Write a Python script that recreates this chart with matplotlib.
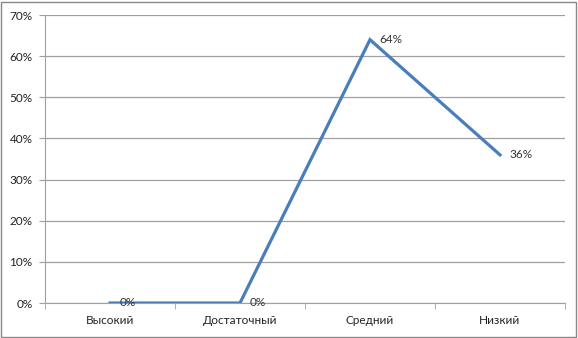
import matplotlib
matplotlib.use("Agg")
import matplotlib.pyplot as plt
from matplotlib.patches import Rectangle
from matplotlib.ticker import FixedLocator

categories = ["Высокий", "Достаточный", "Средний", "Низкий"]
values = [0, 0, 64, 36]
value_labels = ["0%", "0%", "64%", "36%"]
y_ticks = [0, 10, 20, 30, 40, 50, 60, 70]
y_tick_labels = ["0%", "10%", "20%", "30%", "40%", "50%", "60%", "70%"]

plt.rcParams['font.family'] = ['Lato', 'DejaVu Sans']

W, H = 578, 338
fig = plt.figure(figsize=(W/100, H/100), dpi=100)
ax = fig.add_axes([45/W, 35/H, 520/W, 288/H])

x = list(range(len(categories)))
ax.plot(x, values, color="#4A7EBB", lw=2.3, solid_joinstyle="miter", zorder=3)
for xi, v, lab in zip(x, values, value_labels):
    ax.annotate(lab, (xi, v), xytext=(7, 0), textcoords="offset points",
                ha="left", va="center", fontsize=8.5, color="#333333", zorder=4)

ax.set_xlim(-0.5, len(categories) - 0.5)
ax.set_ylim(0, 70)
ax.set_yticks(y_ticks)
ax.set_yticklabels(y_tick_labels)
ax.yaxis.grid(True, color="#A0A0A0", lw=0.9)
ax.set_axisbelow(True)

ax.set_xticks(x)
ax.set_xticklabels(categories)
ax.xaxis.set_minor_locator(FixedLocator([i - 0.5 for i in range(len(categories) + 1)]))
ax.tick_params(axis="x", which="major", length=0, pad=9, labelsize=8.5, labelcolor="#222222")
ax.tick_params(axis="x", which="minor", length=4, color="#A0A0A0", direction="out")
ax.tick_params(axis="y", length=4, color="#A0A0A0", pad=5, labelsize=8.5, labelcolor="#222222")

for s in ["top", "right"]:
    ax.spines[s].set_visible(False)
ax.spines["left"].set_color("#A0A0A0")
ax.spines["bottom"].set_color("#A0A0A0")

fig.patches.append(Rectangle((1/W, 1/H), (W-3)/W, (H-3)/H, transform=fig.transFigure,
                             fill=False, edgecolor="#888888", lw=1.0))
fig.savefig("out.png", dpi=100)
